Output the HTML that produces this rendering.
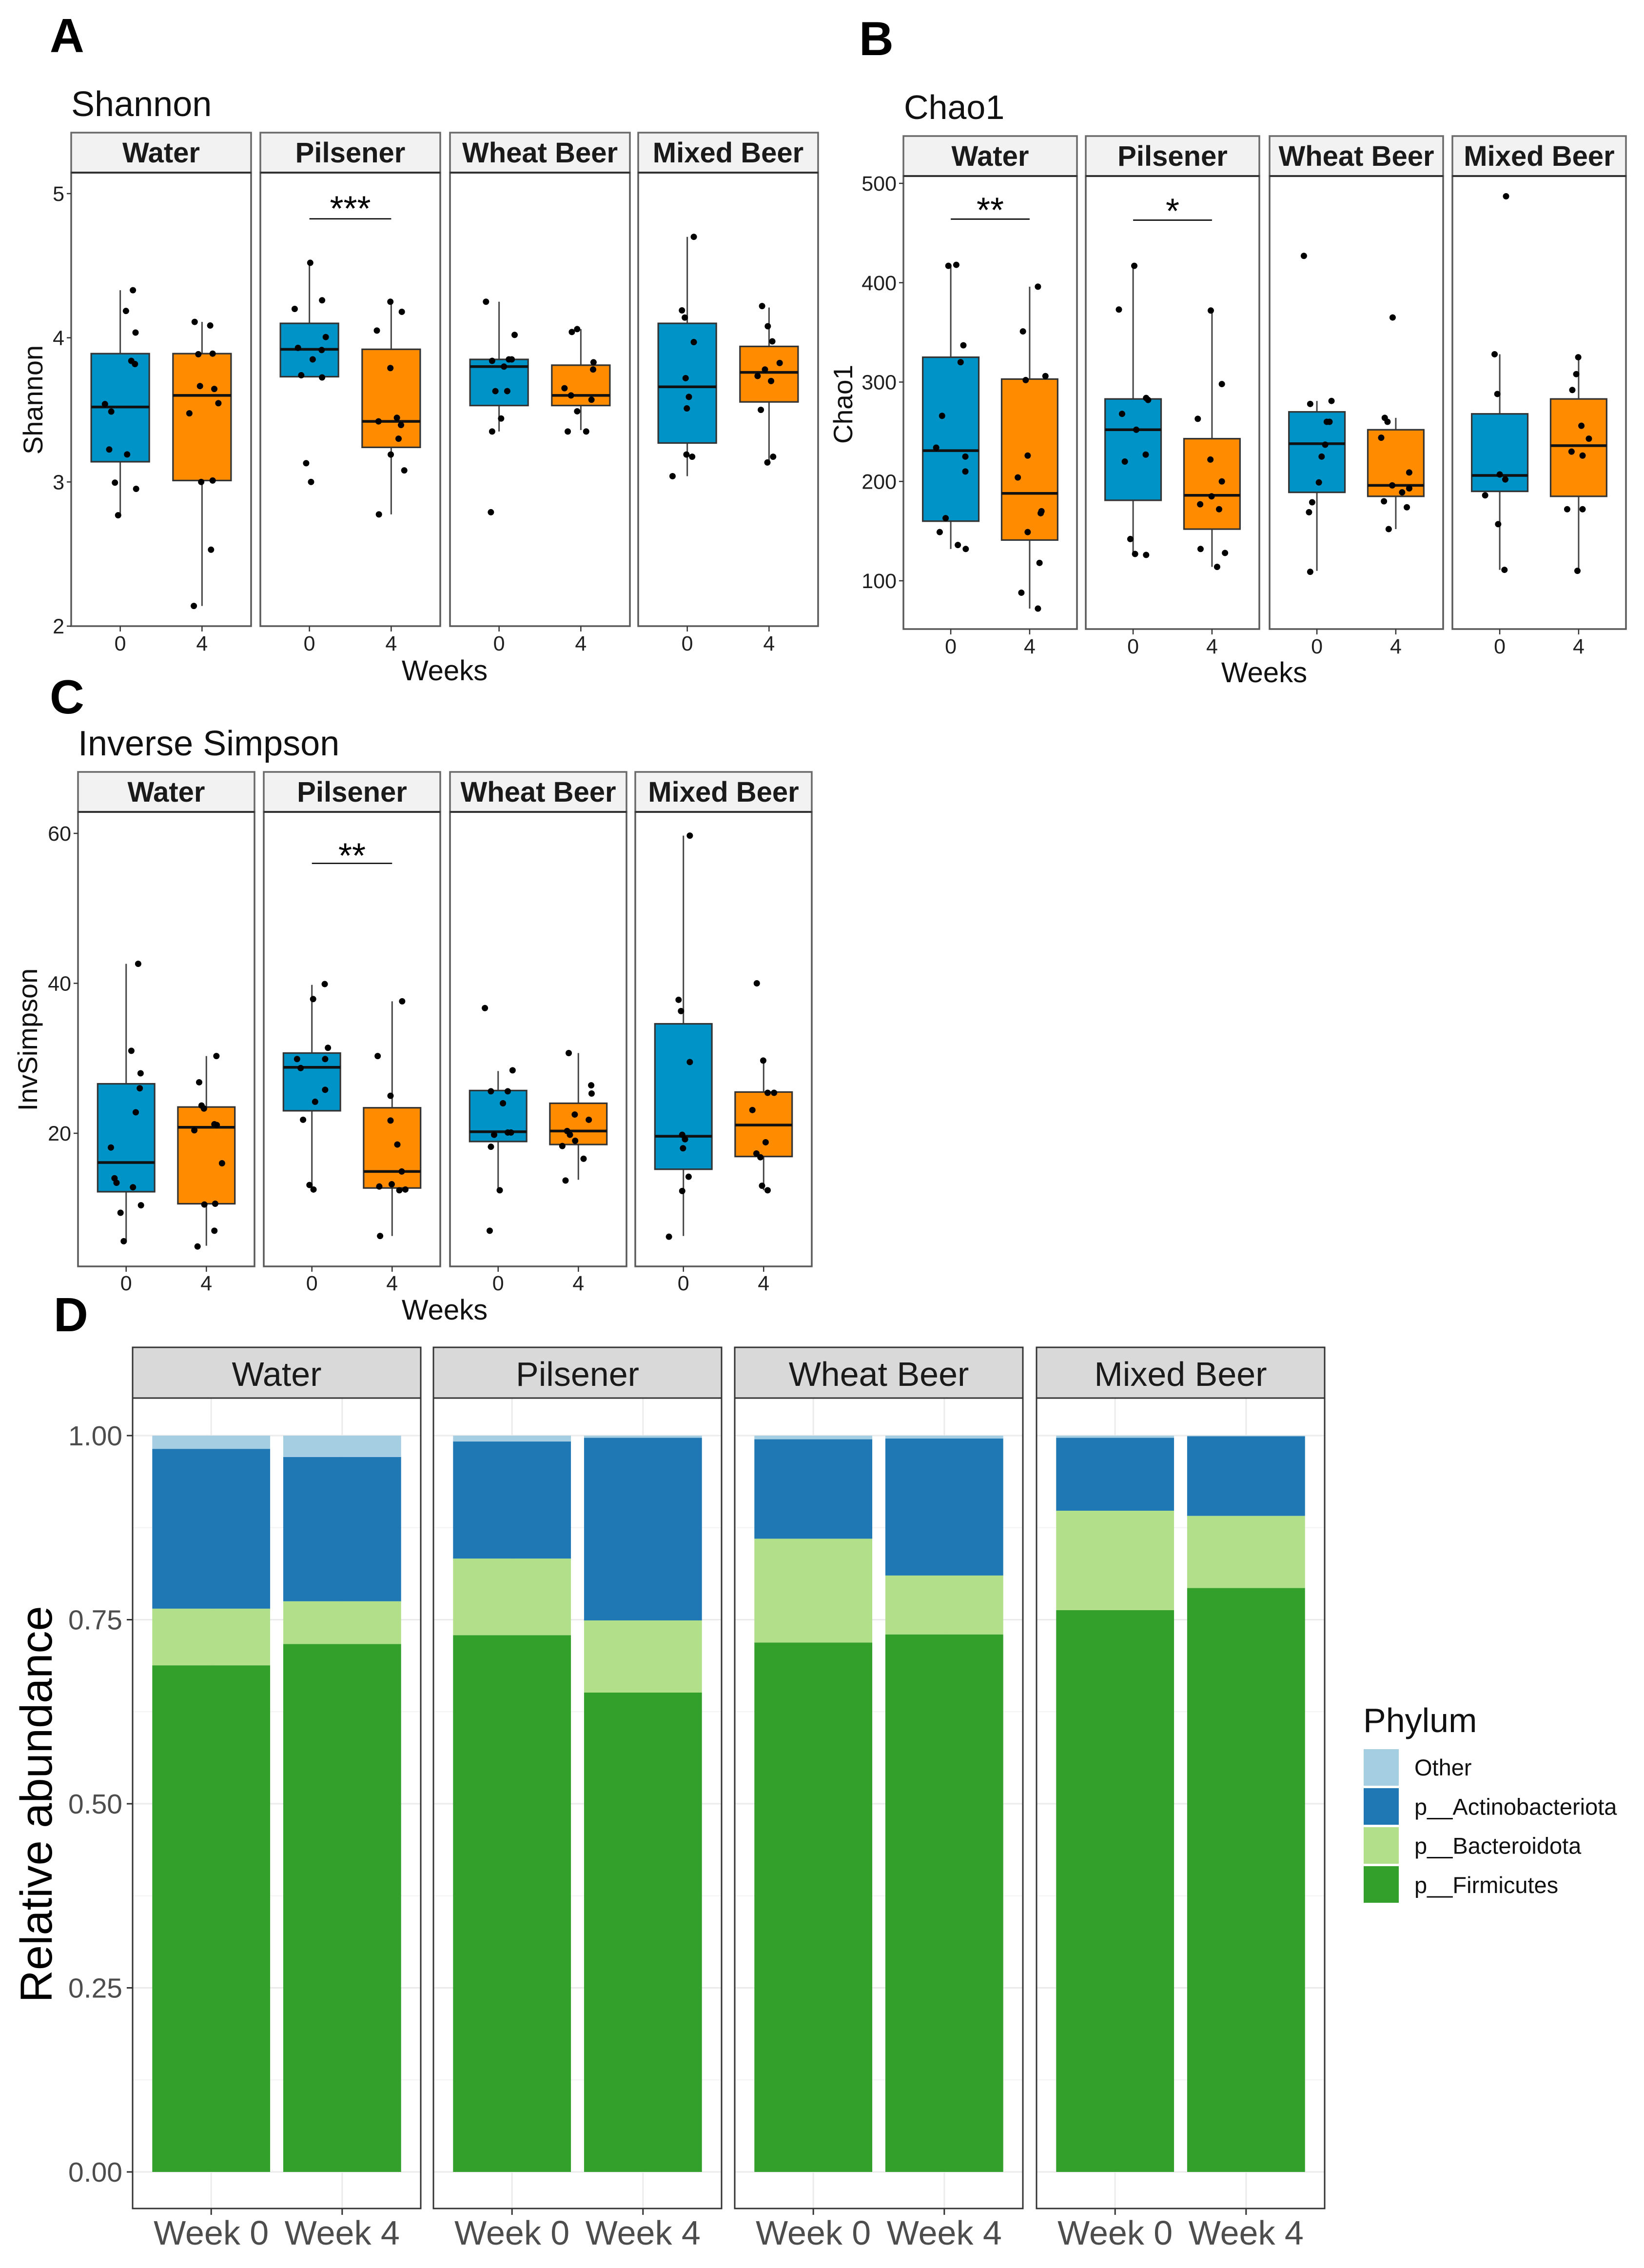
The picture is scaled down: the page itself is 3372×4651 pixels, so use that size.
<!DOCTYPE html>
<html lang="en">
<head>
<meta charset="utf-8">
<title>Alpha diversity and phylum abundance</title>
<style>
html,body{margin:0;padding:0;background:#fff;}
svg{display:block;}
text{font-family:"Liberation Sans",sans-serif;}
</style>
</head>
<body>
<svg id="figure" xmlns="http://www.w3.org/2000/svg" width="3372" height="4651" viewBox="0 0 3372 4651">
  <rect x="0" y="0" width="3372" height="4651" fill="#fff"/>
  <text x="102" y="107" font-size="98" font-weight="bold">A</text>
  <text x="1762" y="113" font-size="98" font-weight="bold">B</text>
  <text x="102" y="1463" font-size="98" font-weight="bold">C</text>
  <text x="110" y="2730" font-size="98" font-weight="bold">D</text>
  <text x="146" y="238" font-size="72" fill="#111">Shannon</text>
  <text x="1854" y="244" font-size="70" fill="#111">Chao1</text>
  <text x="160" y="1549" font-size="72" fill="#111">Inverse Simpson</text>
  <text transform="translate(87,820) rotate(-90)" text-anchor="middle" font-size="56" fill="#111">Shannon</text>
  <text transform="translate(1748,829) rotate(-90)" text-anchor="middle" font-size="55" fill="#111">Chao1</text>
  <text transform="translate(76,2132) rotate(-90)" text-anchor="middle" font-size="56" fill="#111">InvSimpson</text>
  <text x="912" y="1395" text-anchor="middle" font-size="58" fill="#111">Weeks</text>
  <text x="2593" y="1399" text-anchor="middle" font-size="58" fill="#111">Weeks</text>
  <text x="912" y="2706" text-anchor="middle" font-size="58" fill="#111">Weeks</text>
  <text transform="translate(106,3700) rotate(-90)" text-anchor="middle" font-size="92" fill="#000">Relative abundance</text>
  <text x="2796" y="3552" font-size="70" fill="#111">Phylum</text>
</svg>
<script>
const groups = ['Water', 'Pilsener', 'Wheat Beer', 'Mixed Beer'];
const weeks = ['0', '4'];
const weekLabels = ['Week 0', 'Week 4'];

/* each row: lower whisker, Q1, median, Q3, upper whisker; rows run Water 0, Water 4, Pilsener 0, ... */
const shannonBox = [
  [2.77,3.14,3.52,3.89,4.33],[2.14,3.01,3.60,3.89,4.11],
  [3.73,3.73,3.92,4.10,4.52],[2.775,3.24,3.42,3.92,4.25],
  [3.35,3.53,3.80,3.85,4.25],[3.36,3.53,3.60,3.81,4.06],
  [3.04,3.27,3.66,4.10,4.70],[3.14,3.555,3.76,3.94,4.21]
];
const shannonPoints = [
  [4.33,4.186,4.036,3.84,3.818,3.54,3.488,3.225,3.191,2.995,2.952,2.769],
  [4.11,4.085,3.886,3.89,3.665,3.645,3.546,3.476,3.0,3.01,2.53,2.14],
  [4.52,4.26,4.2,4.005,3.93,3.915,3.85,3.74,3.725,3.13,3.0],
  [4.25,4.18,4.05,3.79,3.445,3.42,3.395,3.30,3.19,3.08,2.775],
  [4.25,4.02,3.84,3.85,3.85,3.80,3.63,3.63,3.44,3.35,2.79],
  [4.04,4.06,3.83,3.78,3.65,3.60,3.57,3.49,3.35,3.35],
  [4.70,4.19,4.14,3.97,3.72,3.59,3.51,3.19,3.175,3.04],
  [4.22,4.08,3.975,3.825,3.78,3.735,3.70,3.50,3.175,3.135]
];
const shannonJitter = [
  [.155,.07,.187,.135,.18,-.187,-.11,-.135,.084,-.065,.194,-.026],
  [-.09,.10,-.045,.13,-.025,.15,.2,-.155,-.01,.13,.11,-.10],
  [.01,.155,-.18,.2,-.14,.15,.04,-.10,.155,-.04,.02],
  [-.01,.13,-.175,-.01,.07,-.155,.12,.09,-.005,.16,-.15],
  [-.16,.19,-.085,.12,.155,.06,-.045,.10,.025,-.085,-.10],
  [-.11,-.045,.155,.15,-.2,-.12,.13,-.045,-.16,.065],
  [.08,-.065,-.03,.08,-.02,.02,-.005,-.01,.06,-.18],
  [-.085,-.015,.04,.13,-.05,-.14,.025,-.10,.05,-.02]
];
const shannonTicks = [2,3,4,5];
const shannonSigGroups = [1];
const shannonSigValues = [4.825];
const shannonSigLabels = ['***'];

const chaoBox = [
  [132,160,231,325,417],[72,141,188,303,396],
  [126,181,252,283,417],[114,152,186,243,372],
  [110,189,238,270,281],[152,185,196,252,264],
  [111,190,206,268,328],[111,185,236,283,325]
];
const chaoPoints = [
  [417,418,337,320,266,234,225,210,163,149,136,132],
  [396,351,306,302,226,204,170,168,149,118,88,72],
  [417,373,284,282,268,252,227,220,142,127,126],
  [372,298,263,222,200,185,177,172,132,128,114],
  [427,281,278,260,260,237,225,199,179,169,109],
  [365,264,260,244,209,196,193,189,180,174,152],
  [487,328,288,207,202,186,157,111],
  [325,308,292,256,243,230,226,172,172,110]
];
const chaoJitter = [
  [-.03,.07,.16,.125,-.11,-.185,.185,.185,-.065,-.14,.09,.19],
  [.105,-.085,.2,-.05,-.025,-.15,.15,.14,-.025,.125,-.105,.105],
  [.015,-.18,.165,.19,-.14,.04,.16,-.105,-.035,.025,.165],
  [-.015,.125,-.18,-.02,.125,-.005,-.15,.09,-.145,.165,.065],
  [-.165,.185,-.085,.125,.16,.105,.06,.025,-.06,-.1,-.085],
  [-.04,-.14,-.105,-.185,.17,-.045,.17,.08,-.15,.14,-.09],
  [.08,-.065,-.03,0,.07,-.185,-.02,.06],
  [-.005,-.03,-.08,.035,.13,-.09,.05,-.145,.05,-.015]
];
const chaoTicks = [100,200,300,400,500];
const chaoSigGroups = [0,1];
const chaoSigValues = [464,463];
const chaoSigLabels = ['**','*'];

const invBox = [
  [5.6,12.2,16.1,26.6,42.6],[5,10.6,20.8,23.5,30.3],
  [12.5,23,28.8,30.7,39.8],[6.3,12.7,14.9,23.4,37.6],
  [12.4,18.9,20.2,25.7,28.3],[13.8,18.5,20.3,24,30.7],
  [6.3,15.2,19.6,34.6,59.7],[12.4,16.9,21.1,25.5,29.7]
];
const invPoints = [
  [42.6,31,28,26,22.8,18.1,14,13.4,12.8,10.4,9.4,5.6],
  [30.3,26.8,23.7,23.3,20.4,21.2,21.1,16,10.5,10.6,7,4.9],
  [39.9,37.9,31.4,29.9,29.9,28.7,25.8,24.2,21.8,13.1,12.5],
  [37.6,30.3,25,21.7,18.5,14.9,13.2,12.9,12.4,12.5,6.3],
  [36.7,28.4,25.6,25.6,24,19.8,20.1,20.1,18.2,12.4,7],
  [30.7,26.4,25.3,22.5,21.8,20.3,19.8,19,18.3,16.6,13.7],
  [59.7,37.8,36.3,29.5,19.8,19.2,18,14.2,12.3,6.2],
  [40,29.7,25.4,25.4,23.1,18.8,17.3,16.8,13,12.4]
];
const invJitter = [
  [.15,.065,.18,.17,.12,-.19,-.145,-.12,.085,.185,-.07,-.03],
  [.125,-.09,-.06,-.03,-.15,.1,.13,.195,-.025,.11,.1,-.11],
  [.16,.015,.2,-.185,.165,-.14,.165,.04,-.11,-.03,.02],
  [.125,-.18,-.02,-.02,.065,.12,-.005,-.16,.09,.165,-.15],
  [-.165,.18,-.09,.12,.06,-.05,.12,.16,-.09,.02,-.105],
  [-.12,.16,.165,-.045,.13,-.14,-.105,-.04,-.2,.065,-.16],
  [.08,-.06,-.03,.08,-.015,.02,-.005,.065,-.015,-.18],
  [-.085,-.005,.05,.13,-.14,.025,-.09,-.04,-.02,.05]
];
const invTicks = [20,40,60];
const invSigGroups = [1];
const invSigValues = [56];
const invSigLabels = ['**'];

/* phylum relative abundance; columns run Water Wk0, Water Wk4, Pilsener Wk0, ... */
const phylumNames = ['Other','p__Actinobacteriota','p__Bacteroidota','p__Firmicutes'];
const phylumColors = ['#a6cee3','#1f78b4','#b2df8a','#33a02c'];
const firmicutes = [.688,.717,.729,.651,.719,.73,.763,.793];
const bacteroidota = [.077,.058,.104,.098,.141,.08,.135,.098];
const actinobacteriota = [.217,.196,.159,.248,.135,.186,.099,.108];
const other = [.018,.029,.008,.003,.005,.004,.003,.001];
const abundanceTicks = [0,.25,.5,.75,1];
const abundanceMinorTicks = [.125,.375,.625,.875];

const figure = document.getElementById('figure');
const svgNS = 'http://www.w3.org/2000/svg';
function mk(tag, attrs, parent, txt) {
  const e = document.createElementNS(svgNS, tag);
  for (const k in attrs) e.setAttribute(k, attrs[k]);
  if (txt !== undefined) e.textContent = txt;
  (parent || figure).appendChild(e);
  return e;
}
function linear(d0, d1, r0, r1) {
  return v => r0 + (v - d0) * (r1 - r0) / (d1 - d0);
}
function slug(s) { return String(s).toLowerCase().replace(/[^a-z0-9]+/g, '-'); }
function guarded(fn) {
  try { fn(); } catch (err) { console.warn(err); }
}

function boxChart(id, cfg, box, points, jitter, ticks, sigGroups, sigValues, sigLabels) {
  const g = mk('g', {});
  
  
  const y = linear(cfg.d0, cfg.d1, cfg.r0, cfg.r1);
  groups.forEach((name, p) => {
    const left = cfg.lefts[p], w = cfg.width;
    const x = linear(0, 2.2, left, left + w);
    const catX = i => x(i + 0.6);
    const pg = mk('g', {}, g);
    
    

    const strip = mk('rect', {x:left, y:cfg.stripTop, width:w, height:cfg.panelTop - cfg.stripTop, fill:'#f2f2f2', stroke:'#6a6a6a', 'stroke-width':3.5}, pg);
    
    
    const stripText = mk('text', {x:left + w / 2, y:cfg.panelTop - 21, 'text-anchor':'middle', 'font-size':58, 'font-weight':'bold', fill:'#1a1a1a'}, pg, name);
    
    
    const frame = mk('rect', {x:left, y:cfg.panelTop, width:w, height:cfg.bottom - cfg.panelTop, fill:'#fff', stroke:'#5a5a5a', 'stroke-width':3.5}, pg);
    
    
    const topRule = mk('line', {x1:left, x2:left + w, y1:cfg.panelTop, y2:cfg.panelTop, stroke:'#333', 'stroke-width':4}, pg);
    
    

    weeks.forEach((wk, i) => {
      const s = box[p * 2 + i];
      const cx = catX(i), bw = cfg.width / 2.2 * 0.71;
      const color = i === 0 ? '#0093c8' : '#ff8c00';
      const whisker = mk('line', {x1:cx, x2:cx, y1:y(s[0]), y2:y(s[4]), stroke:'#444', 'stroke-width':3}, pg);
      
      
      const rect = mk('rect', {x:cx - bw / 2, y:y(s[3]), width:bw, height:Math.abs(y(s[1]) - y(s[3])), fill:color, stroke:'#333', 'stroke-width':3.2}, pg);
      
      
      const med = mk('line', {x1:cx - bw / 2, x2:cx + bw / 2, y1:y(s[2]), y2:y(s[2]), stroke:'#111', 'stroke-width':5.5}, pg);
      
      

      const vals = points[p * 2 + i] || [], jit = jitter[p * 2 + i] || [];
      vals.forEach((v, k) => {
        const dot = mk('circle', {cx:x(i + 0.6 + (jit[k] || 0)), cy:y(v), r:6.5, fill:'#000'}, pg);
        
        
      });

      const tick = mk('line', {x1:cx, x2:cx, y1:cfg.bottom, y2:cfg.bottom + 11, stroke:'#333', 'stroke-width':2.5}, pg);
      
      
      const lab = mk('text', {x:cx, y:cfg.xLabelY, 'text-anchor':'middle', 'font-size':43, fill:'#1f1f1f'}, pg, wk);
      
      
    });
  });

  ticks.forEach(t => {
    const tickLeft = cfg.lefts[0];
    const tk = mk('line', {x1:tickLeft - 9, x2:tickLeft, y1:y(t), y2:y(t), stroke:'#333', 'stroke-width':2.5}, g);
    
    
    const lab = mk('text', {x:tickLeft - 14, y:y(t) + 15, 'text-anchor':'end', 'font-size':43, fill:'#1f1f1f'}, g, String(t));
    
    
  });

  sigGroups.forEach((p, n) => {
    const left = cfg.lefts[p];
    const x = linear(0, 2.2, left, left + cfg.width);
    const bar = mk('line', {x1:x(0.6), x2:x(1.6), y1:y(sigValues[n]), y2:y(sigValues[n]), stroke:'#000', 'stroke-width':2.6}, g);
    
    
    const lab = mk('text', {x:x(1.1), y:y(sigValues[n]) + cfg.sigDy, 'text-anchor':'middle', 'font-size':72, fill:'#000'}, g, sigLabels[n]);
    
    
  });
}

guarded(function () {
  boxChart('shannon', {lefts:[146,534,923,1309], width:369, stripTop:272, panelTop:354, bottom:1284, d0:2, d1:5, r0:1284, r1:397, xLabelY:1334, sigDy:4},
    shannonBox, shannonPoints, shannonJitter, shannonTicks, shannonSigGroups, shannonSigValues, shannonSigLabels);
});
guarded(function () {
  boxChart('chao1', {lefts:[1853,2227,2604,2979], width:356, stripTop:279, panelTop:361, bottom:1290, d0:100, d1:500, r0:1191, r1:376, xLabelY:1340, sigDy:6},
    chaoBox, chaoPoints, chaoJitter, chaoTicks, chaoSigGroups, chaoSigValues, chaoSigLabels);
});
guarded(function () {
  boxChart('inverse-simpson', {lefts:[160,541,923,1303], width:362, stripTop:1583, panelTop:1665, bottom:2597, d0:20, d1:60, r0:2324, r1:1709, xLabelY:2646, sigDy:9},
    invBox, invPoints, invJitter, invTicks, invSigGroups, invSigValues, invSigLabels);
});

/* stacked bar chart */
guarded(function () {
  const g = mk('g', {});
  
  
  const lefts = [272,889,1507,2126], w = 591, stripTop = 2763, panelTop = 2867, bottom = 4529;
  const y = linear(0, 1, 4454, 2944);
  const stack = [firmicutes, bacteroidota, actinobacteriota, other];
  const stackColors = [phylumColors[3], phylumColors[2], phylumColors[1], phylumColors[0]];
  const stackNames = [phylumNames[3], phylumNames[2], phylumNames[1], phylumNames[0]];
  groups.forEach((name, p) => {
    const left = lefts[p];
    const x = linear(0, 2.2, left, left + w);
    const pg = mk('g', {}, g);
    
    
    const strip = mk('rect', {x:left, y:stripTop, width:w, height:panelTop - stripTop, fill:'#d9d9d9', stroke:'#333', 'stroke-width':3}, pg);
    
    
    const label = mk('text', {x:left + w / 2, y:panelTop - 25, 'text-anchor':'middle', 'font-size':70, fill:'#1a1a1a'}, pg, name);
    
    
    abundanceMinorTicks.forEach(t => {
      const gl = mk('line', {x1:left, x2:left + w, y1:y(t), y2:y(t), stroke:'#f3f3f3', 'stroke-width':2}, pg);
      
      
    });
    abundanceTicks.forEach(t => {
      const gl = mk('line', {x1:left, x2:left + w, y1:y(t), y2:y(t), stroke:'#ebebeb', 'stroke-width':3}, pg);
      
      
    });
    weekLabels.forEach((wk, i) => {
      const cx = x(i + 0.6);
      const gl = mk('line', {x1:cx, x2:cx, y1:panelTop, y2:bottom, stroke:'#ebebeb', 'stroke-width':3}, pg);
      
      
      let base = 0;
      stack.forEach((series, s) => {
        const v = series[p * 2 + i];
        const seg = mk('rect', {x:x(i + 0.15), y:y(base + v), width:x(0.9) - x(0), height:Math.abs(y(base) - y(base + v)), fill:stackColors[s]}, pg);
        
        
        base += v;
      });
    });
    const frame = mk('rect', {x:left, y:panelTop, width:w, height:bottom - panelTop, fill:'none', stroke:'#333', 'stroke-width':3}, pg);
    
    
    weekLabels.forEach((wk, i) => {
      const cx = x(i + 0.6);
      const tick = mk('line', {x1:cx, x2:cx, y1:bottom, y2:bottom + 13, stroke:'#333', 'stroke-width':3}, pg);
      
      
      const lab = mk('text', {x:cx, y:4603, 'text-anchor':'middle', 'font-size':70, fill:'#4d4d4d'}, pg, wk);
      
      
    });
  });
  abundanceTicks.forEach(t => {
    const tk = mk('line', {x1:lefts[0] - 12, x2:lefts[0], y1:y(t), y2:y(t), stroke:'#333', 'stroke-width':3}, g);
    
    
    const lab = mk('text', {x:lefts[0] - 21, y:y(t) + 20, 'text-anchor':'end', 'font-size':57, fill:'#4d4d4d'}, g, t.toFixed(2));
    
    
  });
});

/* legend */
guarded(function () {
  phylumNames.forEach((name, i) => {
    const sw = mk('rect', {x:2797, y:3587 + i * 80, width:72, height:75, fill:phylumColors[i]});
    
    
    const lab = mk('text', {x:2901, y:3641 + i * 80.3, 'font-size':47, fill:'#111'}, figure, name);
    
    
  });
});
</script>
</body>
</html>
